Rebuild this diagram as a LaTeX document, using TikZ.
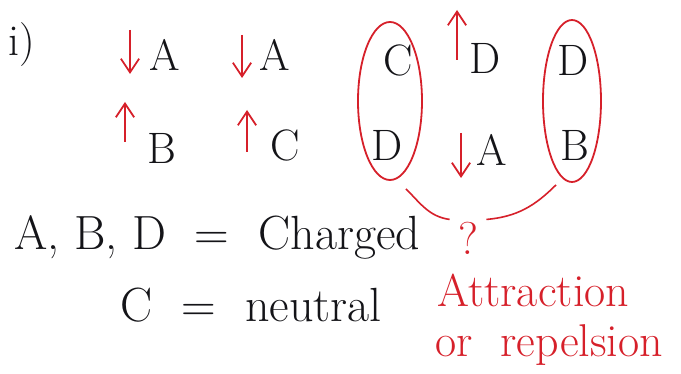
\documentclass[tikz,border=0pt]{standalone}
\usepackage{tikz}
\usetikzlibrary{positioning,arrows.meta,shapes.geometric}
\definecolor{ink}{RGB}{20,20,24}
\definecolor{penred}{RGB}{214,32,42}
\tikzset{
  lbl/.style={font=\fontsize{22}{26}\selectfont, text=ink, inner sep=1pt},
  keylbl/.style={font=\fontsize{24}{28}\selectfont, text=ink, inner sep=1pt},
  rlbl/.style={font=\fontsize{23}{27}\selectfont, text=penred, inner sep=1pt},
  spin/.style={-{Straight Barb[length=2.4mm,width=3.2mm]}, line width=0.9pt, draw=penred},
  pairring/.style={draw=penred, ellipse, line width=0.9pt, inner sep=0pt},
  link/.style={line width=0.8pt, draw=penred},
}
\begin{document}
\begin{tikzpicture}[x=0.5pt,y=-0.5pt]
\useasboundingbox (0,0) rectangle (681,374);
\node[lbl] (tag) at (22,45) {i)};
% first pair
\node[lbl] (a1) at (165,55) {A};
\node[lbl] (b1) at (162,148) {B};
\coordinate (a1top) at (130,30); \coordinate (a1bot) at (130,74);
\coordinate (b1bot) at (125,142); \coordinate (b1top) at (125,102);
\draw[spin] (a1top) -- (a1bot);
\draw[spin] (b1bot) -- (b1top);
% second pair
\node[lbl] (a2) at (275,55) {A};
\node[lbl] (c2) at (285,145) {C};
\coordinate (a2top) at (242,35); \coordinate (a2bot) at (242,78);
\coordinate (c2bot) at (247,152); \coordinate (c2top) at (247,110);
\draw[spin] (a2top) -- (a2bot);
\draw[spin] (c2bot) -- (c2top);
% third pair
\node[lbl] (c3) at (398,60) {C};
\node[lbl] (d3) at (387,145) {D};
\node[pairring, minimum width=32pt, minimum height=79pt] (ring1) at (390,101) {};
% fourth pair
\node[lbl] (d4) at (485,58) {D};
\node[lbl] (a4) at (492,150) {A};
\coordinate (d4bot) at (457,60); \coordinate (d4top) at (457,10);
\coordinate (a4top) at (461,133); \coordinate (a4bot) at (461,178);
\draw[spin] (d4bot) -- (d4top);
\draw[spin] (a4top) -- (a4bot);
% fifth pair
\node[lbl] (d5) at (573,60) {D};
\node[lbl] (b5) at (575,145) {B};
\node[pairring, minimum width=29pt, minimum height=81pt] (ring2) at (572,101) {};
% question
\node[rlbl] (ask) at (468,238) {?};
\draw[link] ([xshift=8pt,yshift=-4pt]ring1.south) to[out=-45,in=172] ([xshift=-3pt]ask.north west);
\draw[link] ([xshift=3pt]ask.north east) to[out=5,in=-135] ([xshift=-8pt,yshift=-1pt]ring2.south);
% legend
\node[keylbl, anchor=west] (chg) at (12,237) {A,\ B,\ D\ \ =\ \ Charged};
\node[keylbl, anchor=west] (neu) at (118,305) {C\ \ =\ \ neutral};
\node[rlbl, anchor=west] (att) at (435,290) {Attraction};
\node[rlbl, anchor=west] (rep) at (433,345) {or\ \ repelsion};
\end{tikzpicture}
\end{document}
